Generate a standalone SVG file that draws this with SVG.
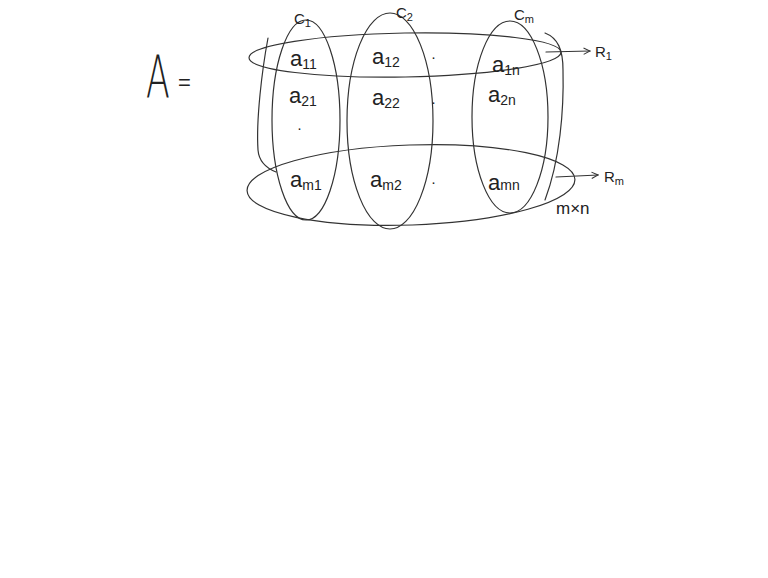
<svg xmlns="http://www.w3.org/2000/svg" width="768" height="578" viewBox="0 0 768 578">
<style>
.s{fill:none;stroke:#333;stroke-width:1.2;stroke-linecap:round}
.t{font-family:"Liberation Sans",sans-serif;fill:#222;font-size:22px}
.sub{font-size:14px}
.sm{font-family:"Liberation Sans",sans-serif;fill:#222;font-size:15px}
</style>
<defs>
<marker id="ah" viewBox="0 0 10 10" refX="9" refY="5" markerWidth="8" markerHeight="8" orient="auto" markerUnits="userSpaceOnUse">
<path d="M1,1 L9,5 L1,9" fill="none" stroke="#333" stroke-width="1.3"/>
</marker>
</defs>
<rect width="768" height="578" fill="#fff"/>
<g id="label-A"><text x="0" y="0" transform="translate(146,98) scale(0.6,1)" style="font-family:'DejaVu Sans',sans-serif;font-weight:200;font-size:58px;fill:#222">A</text><text class="t" x="178" y="90">=</text></g>
<g id="matrix-brackets">
<path class="s" d="M268,38 C262,70 256,120 258,150 C259,162 266,168 276,172"/>
<path class="s" d="M545,33 C558,38 563,50 563,70 C564,110 560,160 545,200"/>
</g>
<g id="col-1"><ellipse class="s" cx="306" cy="120" rx="34" ry="100"/><text class="sm" x="294" y="24">C<tspan dy="3" style="font-size:11px">1</tspan></text></g>
<g id="col-2"><ellipse class="s" cx="390" cy="121" rx="43" ry="108"/><text class="sm" x="396" y="18">C<tspan dy="3" style="font-size:11px">2</tspan></text></g>
<g id="col-n"><ellipse class="s" cx="510" cy="117" rx="38" ry="96"/><text class="sm" x="514" y="20">C<tspan dy="3" style="font-size:11px">m</tspan></text></g>
<g id="row-1"><ellipse class="s" cx="405" cy="55" rx="156" ry="22" transform="rotate(-1 405 55)"/></g>
<g id="row-m"><ellipse class="s" cx="411" cy="185" rx="164" ry="40" transform="rotate(-2 411 185)"/></g>
<g id="entries">
<text class="t" x="290" y="66">a<tspan class="sub" dy="3">11</tspan></text>
<text class="t" x="372" y="64">a<tspan class="sub" dy="3">12</tspan></text>
<text class="t" x="492" y="72">a<tspan class="sub" dy="3">1n</tspan></text>
<text class="t" x="289" y="103">a<tspan class="sub" dy="3">21</tspan></text>
<text class="t" x="372" y="105">a<tspan class="sub" dy="3">22</tspan></text>
<text class="t" x="488" y="102">a<tspan class="sub" dy="3">2n</tspan></text>
<text class="t" x="290" y="187">a<tspan class="sub" dy="3">m1</tspan></text>
<text class="t" x="370" y="187">a<tspan class="sub" dy="3">m2</tspan></text>
<text class="t" x="488" y="190">a<tspan class="sub" dy="0">mn</tspan></text>
<text class="sm" x="431" y="62">·</text>
<text class="sm" x="431" y="107">·</text>
<text class="sm" x="297" y="133">·</text>
<text class="sm" x="431" y="187">·</text>
</g>
<g id="connectors">
<line class="s" x1="546" y1="52" x2="590" y2="51" marker-end="url(#ah)"/>
<line class="s" x1="556" y1="177" x2="598" y2="175" marker-end="url(#ah)"/>
</g>
<g id="labels">
<text class="sm" x="595" y="57">R<tspan dy="3" style="font-size:11px">1</tspan></text>
<text class="sm" x="604" y="182">R<tspan dy="3" style="font-size:11px">m</tspan></text>
<text class="sm" x="556" y="214" style="font-size:17px">m×n</text>
</g>
</svg>
